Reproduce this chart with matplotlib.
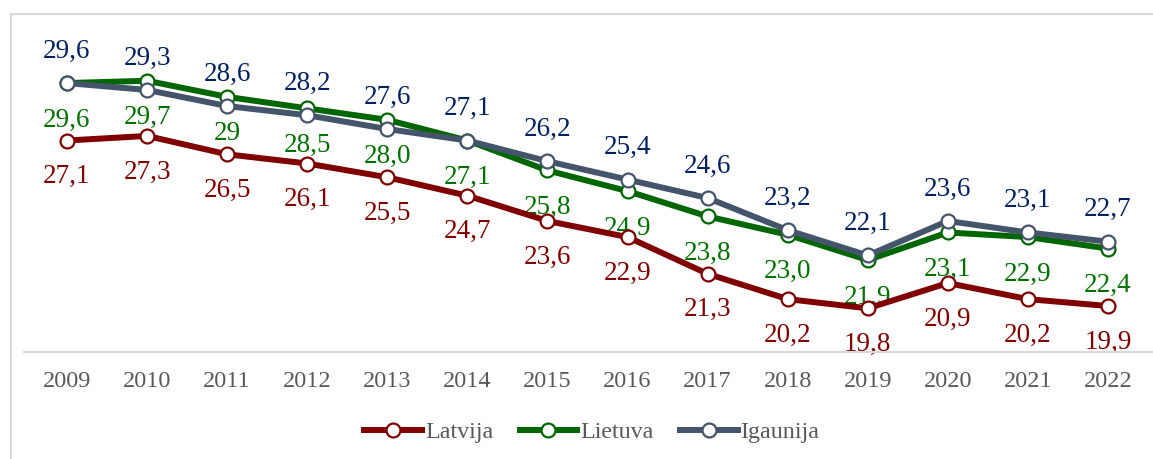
import numpy as np
import matplotlib.pyplot as plt
from matplotlib.patches import Rectangle

# dados
anos = ['2009', '2010', '2011', '2012', '2013', '2014', '2015',
        '2016', '2017', '2018', '2019', '2020', '2021', '2022']
latvija = [27.1, 27.3, 26.5, 26.1, 25.5, 24.7, 23.6, 22.9, 21.3, 20.2, 19.8, 20.9, 20.2, 19.9]
lietuva = [29.6, 29.7, 29, 28.5, 28.0, 27.1, 25.8, 24.9, 23.8, 23.0, 21.9, 23.1, 22.9, 22.4]
igaunija = [29.6, 29.3, 28.6, 28.2, 27.6, 27.1, 26.2, 25.4, 24.6, 23.2, 22.1, 23.6, 23.1, 22.7]

plt.rcParams['font.family'] = ['Liberation Serif', 'DejaVu Serif']

W, H = 1153, 459
fig = plt.figure(figsize=(W / 100, H / 100), dpi=100)

# moldura do gráfico
fig.patches.append(Rectangle((11 / W, -0.1), 1.2, (H - 14.5) / H + 0.1,
                             transform=fig.transFigure, fill=False,
                             edgecolor='#D9D9D9', linewidth=1.5))

ax = fig.add_axes([24 / W, (H - 352) / H, 1 - 24 / W, (352 - 16.4) / H])
x = np.arange(len(anos))

series = [
    ('Latvija', latvija, '#800000', '#800000', -36),
    ('Lietuva', lietuva, '#006600', '#007000', -37),
    ('Igaunija', igaunija, '#44546A', '#002060', 32),
]

for nome, vals, cor, cor_txt, dy in series:
    ax.plot(x, [float(v) for v in vals], color=cor, linewidth=4.3, marker='o',
            markersize=10, markerfacecolor='white', markeredgecolor=cor,
            markeredgewidth=1.6, label=nome, zorder=3)
    for xi, v in zip(x, vals):
        ax.annotate(str(v).replace('.', ','), (xi, float(v)), xytext=(0, dy),
                    textcoords='offset pixels', ha='center', va='center',
                    fontsize=19.5, color=cor_txt, zorder=1)

ax.set_xlim(-(67 - 24) / 80.08, 13 + (1153 - 1108) / 80.08)
ax.set_ylim(17.9, 32.5)
ax.set_xticks(x)
ax.set_xticklabels(anos, fontsize=17.5, color='#595959')
ax.tick_params(axis='x', length=0, pad=14)
ax.set_yticks([])
for s in ['top', 'right', 'left']:
    ax.spines[s].set_visible(False)
ax.spines['bottom'].set_color('#D9D9D9')
ax.spines['bottom'].set_linewidth(1.5)
ax.patch.set_alpha(0)

leg = fig.legend(loc='center', bbox_to_anchor=(592 / W, 1 - 432 / H), ncol=3,
                 frameon=False, fontsize=17.3, handlelength=2.4, handletextpad=0.12,
                 columnspacing=1.1)
for t in leg.get_texts():
    t.set_color('#595959')

plt.savefig('out.png', dpi=100)
